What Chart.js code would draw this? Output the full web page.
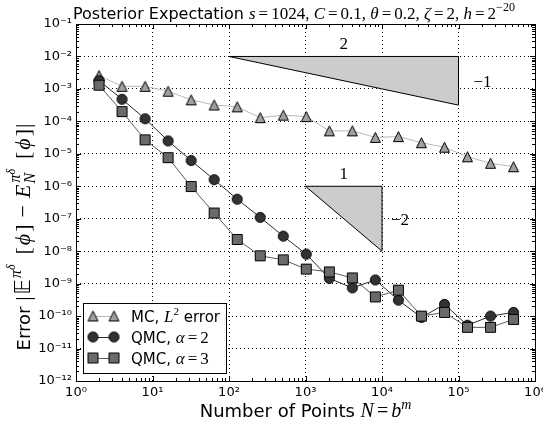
<!DOCTYPE html>
<html>
<head>
<meta charset="utf-8">
<script src="https://cdn.jsdelivr.net/npm/chart.js@4.4.1/dist/chart.umd.min.js"></script>
<style>
  html, body { margin: 0; padding: 0; background: #fff; }
  #wrap { width: 543px; height: 423px; }
</style>
</head>
<body>
<div id="wrap"><canvas id="c" width="543" height="423"></canvas></div>
<script>
// Number of points N = b^m, b = 2, m = 1..19
const pointsN = [2, 4, 8, 16, 32, 64, 128, 256, 512, 1024, 2048, 4096, 8192,
                 16384, 32768, 65536, 131072, 262144, 524288];

// Errors of the posterior expectation estimators
const mcL2Error = [2.6e-3, 1.2e-3, 1.2e-3, 8.5e-4, 4.6e-4, 3.2e-4, 2.8e-4, 1.3e-4, 1.55e-4, 1.4e-4,
                   5.1e-5, 5.1e-5, 3.2e-5, 3.4e-5, 2.2e-5, 1.6e-5, 8.1e-6, 5.1e-6, 4.0e-6];
const qmcAlpha2 = [1.8e-3, 4.8e-4, 1.2e-4, 2.5e-5, 6.2e-6, 1.6e-6, 4.0e-7, 1.1e-7, 2.9e-8, 8.1e-9,
                   1.45e-9, 7.4e-10, 1.3e-9, 3.1e-10, 9.1e-11, 2.3e-10, 5.2e-11, 1.0e-10, 1.3e-10];
const qmcAlpha3 = [1.3e-3, 2.0e-4, 2.7e-5, 7.6e-6, 9.8e-7, 1.5e-7, 2.3e-8, 7.2e-9, 5.4e-9, 2.8e-9,
                   2.3e-9, 1.5e-9, 3.9e-10, 6.3e-10, 1.0e-10, 1.3e-10, 4.5e-11, 4.5e-11, 7.9e-11];

// Decade ticks
const xTicks = [1, 10, 100, 1e3, 1e4, 1e5, 1e6];
const yTicks = [1e-12, 1e-11, 1e-10, 1e-9, 1e-8, 1e-7, 1e-6, 1e-5, 1e-4, 1e-3, 1e-2, 1e-1];

// Reference slope triangles (rate -1/2 and rate -2)
const halfRateX = [1e2, 1e5, 1e5];
const halfRateY = [1e-2, 1e-2, 3.162e-4];
const squareRateX = [1e3, 1e4, 1e4];
const squareRateY = [1e-6, 1e-6, 1e-8];

const SANS = '"DejaVu Sans", sans-serif';
const SERIF = '"Liberation Serif", "DejaVu Serif", serif';

// ---------- marker sprites ----------
function sprite(drawFn) {
  const c = document.createElement('canvas');
  c.width = 13; c.height = 13;
  const g = c.getContext('2d');
  g.lineWidth = 1;
  g.strokeStyle = '#000';
  drawFn(g);
  return c;
}
const triMarker = sprite(g => {
  g.beginPath();
  g.moveTo(6.5, 1.5); g.lineTo(11.5, 11.5); g.lineTo(1.5, 11.5); g.closePath();
  g.fillStyle = '#a0a0a0'; g.fill(); g.stroke();
});
const circMarker = sprite(g => {
  g.beginPath(); g.arc(6.5, 6.5, 5, 0, Math.PI * 2);
  g.fillStyle = '#333333'; g.fill(); g.stroke();
});
const sqMarker = sprite(g => {
  g.beginPath(); g.rect(1.5, 1.5, 10, 10);
  g.fillStyle = '#6a6a6a'; g.fill(); g.stroke();
});

// ---------- mixed-font text runs ----------
function drawRuns(ctx, runs, x, y, align) {
  let total = 0;
  for (const r of runs) {
    ctx.font = r.f;
    r._w = ctx.measureText(r.t).width;
    if (!r.keep) total += (r.pl || 0) + r._w + (r.pr || 0);
  }
  let cx = align === 'center' ? x - total / 2 : (align === 'right' ? x - total : x);
  for (const r of runs) {
    ctx.font = r.f;
    ctx.fillText(r.t, cx + (r.pl || 0), y + (r.dy || 0));
    if (!r.keep) cx += (r.pl || 0) + r._w + (r.pr || 0);
  }
}

const SUP = {'-': '⁻', '0': '⁰', '1': '¹', '2': '²', '3': '³', '4': '⁴',
             '5': '⁵', '6': '⁶', '7': '⁷', '8': '⁸', '9': '⁹'};
function expLabel(v) {
  const e = Math.round(Math.log10(v));
  return '10' + String(e).split('').map(c => SUP[c]).join('');
}

function pts(ys) { return pointsN.map((n, i) => ({ x: n, y: ys[i] })); }

// ---------- decorations: frame, minor ticks, slope triangles, legend, titles ----------
const decorations = {
  id: 'decorations',
  beforeDatasetsDraw(chart) {
    const { ctx, chartArea: a, scales: { x, y } } = chart;
    ctx.save();
    // slope triangles
    const tri = (xs, ys) => {
      ctx.beginPath();
      xs.forEach((xv, i) => {
        const px = x.getPixelForValue(xv), py = y.getPixelForValue(ys[i]);
        if (i === 0) ctx.moveTo(px, py); else ctx.lineTo(px, py);
      });
      ctx.closePath();
      ctx.fillStyle = '#cccccc'; ctx.fill();
      ctx.strokeStyle = '#000'; ctx.lineWidth = 1; ctx.stroke();
    };
    tri(halfRateX, halfRateY);
    tri(squareRateX, squareRateY);

    // slope labels
    ctx.fillStyle = '#000';
    ctx.textBaseline = 'alphabetic';
    ctx.textAlign = 'left';
    const lf = '17px ' + SERIF;
    const midX = (a0, a1) => x.getPixelForValue(Math.sqrt(a0 * a1));
    const midY = (b0, b1) => y.getPixelForValue(Math.sqrt(b0 * b1));
    drawRuns(ctx, [{ t: '2', f: lf }], midX(halfRateX[0], halfRateX[1]), y.getPixelForValue(halfRateY[0]) - 7, 'center');
    drawRuns(ctx, [{ t: '−1', f: lf }], x.getPixelForValue(halfRateX[2]) + 24, midY(halfRateY[1], halfRateY[2]) + 6, 'center');
    drawRuns(ctx, [{ t: '1', f: lf }], midX(squareRateX[0], squareRateX[1]), y.getPixelForValue(squareRateY[0]) - 7, 'center');
    drawRuns(ctx, [{ t: '−2', f: lf }], x.getPixelForValue(squareRateX[2]) + 18, midY(squareRateY[1], squareRateY[2]) + 6, 'center');

    // frame
    ctx.strokeStyle = '#000'; ctx.lineWidth = 1;
    ctx.strokeRect(Math.round(a.left) + 0.5, Math.round(a.top) + 0.5,
                   Math.round(a.right) - Math.round(a.left), Math.round(a.bottom) - Math.round(a.top));

    // inward tick marks on all four sides
    ctx.beginPath();
    const xmin = Math.log10(x.min), xmax = Math.log10(x.max);
    for (let d = xmin; d <= xmax; d++) {
      for (let k = 1; k <= 9; k++) {
        const v = k * Math.pow(10, d);
        if (v > x.max * 1.0001) break;
        const px = Math.round(x.getPixelForValue(v)) + 0.5;
        const len = k === 1 ? 5 : 3;
        ctx.moveTo(px, a.bottom); ctx.lineTo(px, a.bottom - len);
        ctx.moveTo(px, a.top); ctx.lineTo(px, a.top + len);
      }
    }
    const ymin = Math.round(Math.log10(y.min)), ymax = Math.round(Math.log10(y.max));
    for (let d = ymin; d <= ymax; d++) {
      for (let k = 1; k <= 9; k++) {
        const v = k * Math.pow(10, d);
        if (v > y.max * 1.0001) break;
        const py = Math.round(y.getPixelForValue(v)) + 0.5;
        const len = k === 1 ? 5 : 3;
        ctx.moveTo(a.left, py); ctx.lineTo(a.left + len, py);
        ctx.moveTo(a.right, py); ctx.lineTo(a.right - len, py);
      }
    }
    ctx.stroke();
    ctx.restore();
  },
  afterDatasetsDraw(chart) {
    const { ctx } = chart;
    ctx.save();
    // legend box
    const L = { x: 83, y: 303, w: 143, h: 70 };
    ctx.fillStyle = '#fff';
    ctx.fillRect(L.x, L.y, L.w, L.h);
    ctx.strokeStyle = '#000'; ctx.lineWidth = 1;
    ctx.strokeRect(L.x + 0.5, L.y + 0.5, L.w, L.h);
    const ds = chart.data.datasets;
    const rows = [316, 337, 358];
    const sans = '15px ' + SANS, it = 'italic 17px ' + SERIF, rm = '17px ' + SERIF;
    const texts = [
      [{ t: 'MC, ', f: sans }, { t: 'L', f: it }, { t: '2', f: '11px ' + SERIF, dy: -7 }, { t: ' error', f: sans }],
      [{ t: 'QMC, ', f: sans }, { t: 'α', f: it }, { t: '=', f: rm, pl: 3, pr: 3 }, { t: '2', f: rm }],
      [{ t: 'QMC, ', f: sans }, { t: 'α', f: it }, { t: '=', f: rm, pl: 3, pr: 3 }, { t: '3', f: rm }]
    ];
    ds.forEach((d, i) => {
      const cy = rows[i];
      ctx.strokeStyle = d.borderColor; ctx.lineWidth = d.borderWidth;
      ctx.beginPath(); ctx.moveTo(93, cy + 0.5); ctx.lineTo(114, cy + 0.5); ctx.stroke();
      const m = d.pointStyle;
      ctx.drawImage(m, 93 - m.width / 2, cy - m.height / 2);
      ctx.drawImage(m, 114 - m.width / 2, cy - m.height / 2);
      ctx.fillStyle = '#000';
      ctx.textBaseline = 'alphabetic';
      drawRuns(ctx, texts[i], 131, cy + 6, 'left');
    });
    ctx.restore();
  },
  afterDraw(chart) {
    const { ctx, chartArea: a } = chart;
    ctx.save();
    ctx.fillStyle = '#000';
    ctx.textBaseline = 'alphabetic';
    ctx.textAlign = 'left';
    // title
    const ts = '16px ' + SANS, ti = 'italic 17px ' + SERIF, tr = '17px ' + SERIF;
    const eq = { t: '=', f: tr, pl: 3, pr: 3 };
    drawRuns(ctx, [
      { t: 'Posterior Expectation ', f: ts },
      { t: 's', f: ti }, eq, { t: '1024, ', f: tr },
      { t: 'C', f: ti }, eq, { t: '0.1, ', f: tr },
      { t: 'θ', f: ti }, eq, { t: '0.2, ', f: tr },
      { t: 'ζ', f: ti }, eq, { t: '2, ', f: tr },
      { t: 'h', f: ti }, eq, { t: '2', f: tr }, { t: '−20', f: '12px ' + SERIF, dy: -8 }
    ], 73, 19, 'left');

    // x axis title
    const xs = '18px ' + SANS, xi = 'italic 20px ' + SERIF, xr = '20px ' + SERIF;
    drawRuns(ctx, [
      { t: 'Number of Points ', f: xs },
      { t: 'N', f: xi }, { t: '=', f: xr, pl: 3, pr: 3 }, { t: 'b', f: xi },
      { t: 'm', f: 'italic 14px ' + SERIF, dy: -8 }
    ], (a.left + a.right) / 2, 417, 'center');

    // y axis title
    ctx.translate(30, 237);
    ctx.rotate(-Math.PI / 2);
    const ys = '18px ' + SANS, yi = 'italic 22px ' + SERIF, yr = '22px ' + SERIF;
    const si = 'italic 16px ' + SERIF, ssi = 'italic 12px ' + SERIF;
    drawRuns(ctx, [
      { t: 'Error ', f: ys },
      { t: '|', f: yr, pr: 1 }, { t: '𝔼', f: '21px ' + SANS, pl: 1 },
      { t: 'π', f: si, dy: -9, pl: 1 }, { t: 'δ', f: ssi, dy: -15 },
      { t: '[', f: yr, pl: 10 }, { t: 'ϕ', f: yi, pl: 2, pr: 2 }, { t: ']', f: yr },
      { t: '−', f: yr, pl: 7, pr: 7 },
      { t: 'E', f: yi },
      { t: 'N', f: si, dy: 5, keep: true, pl: 1 },
      { t: 'π', f: si, dy: -10, pl: 2 }, { t: 'δ', f: ssi, dy: -15 },
      { t: '[', f: yr, pl: 10 }, { t: 'ϕ', f: yi, pl: 2, pr: 2 }, { t: ']', f: yr }, { t: '|', f: yr, pl: 1 }
    ], 0, 0, 'center');
    ctx.restore();
  }
};

const tickFont = { family: 'DejaVu Sans', size: 13 };

new Chart(document.getElementById('c'), {
  type: 'scatter',
  data: {
    datasets: [
      { label: 'MC, L2 error', data: pts(mcL2Error), showLine: true,
        borderColor: '#b8b8b8', borderWidth: 1, pointStyle: triMarker, pointRadius: 5, order: 3 },
      { label: 'QMC, α=2', data: pts(qmcAlpha2), showLine: true,
        borderColor: '#2a2a2a', borderWidth: 1, pointStyle: circMarker, pointRadius: 5, order: 2 },
      { label: 'QMC, α=3', data: pts(qmcAlpha3), showLine: true,
        borderColor: '#5a5a5a', borderWidth: 1, pointStyle: sqMarker, pointRadius: 5, order: 1 }
    ]
  },
  options: {
    responsive: false,
    animation: false,
    events: [],
    layout: { padding: { left: 0, right: 8, top: 24, bottom: 0 } },
    plugins: { legend: { display: false }, tooltip: { enabled: false }, title: { display: false } },
    scales: {
      x: {
        type: 'logarithmic', min: 1, max: 1e6,
        afterBuildTicks: s => { s.ticks = xTicks.map(v => ({ value: v })); },
        afterFit: s => { s.height = 42; s.paddingLeft = 0; s.paddingRight = 0; },
        grid: { color: '#000', lineWidth: 1, drawTicks: false },
        border: { display: false, dash: [1, 3] },
        ticks: { font: tickFont, color: '#000', padding: 4, maxRotation: 0, autoSkip: false,
                 callback: v => expLabel(v) }
      },
      y: {
        type: 'logarithmic', min: 1e-12, max: 1e-1,
        afterBuildTicks: s => { s.ticks = yTicks.map(v => ({ value: v })); },
        afterFit: s => { s.width = 76; },
        grid: { color: '#000', lineWidth: 1, drawTicks: false },
        border: { display: false, dash: [1, 3] },
        ticks: { font: tickFont, color: '#000', padding: 4, autoSkip: false,
                 callback: v => expLabel(v) }
      }
    }
  },
  plugins: [decorations]
});
</script>
</body>
</html>
